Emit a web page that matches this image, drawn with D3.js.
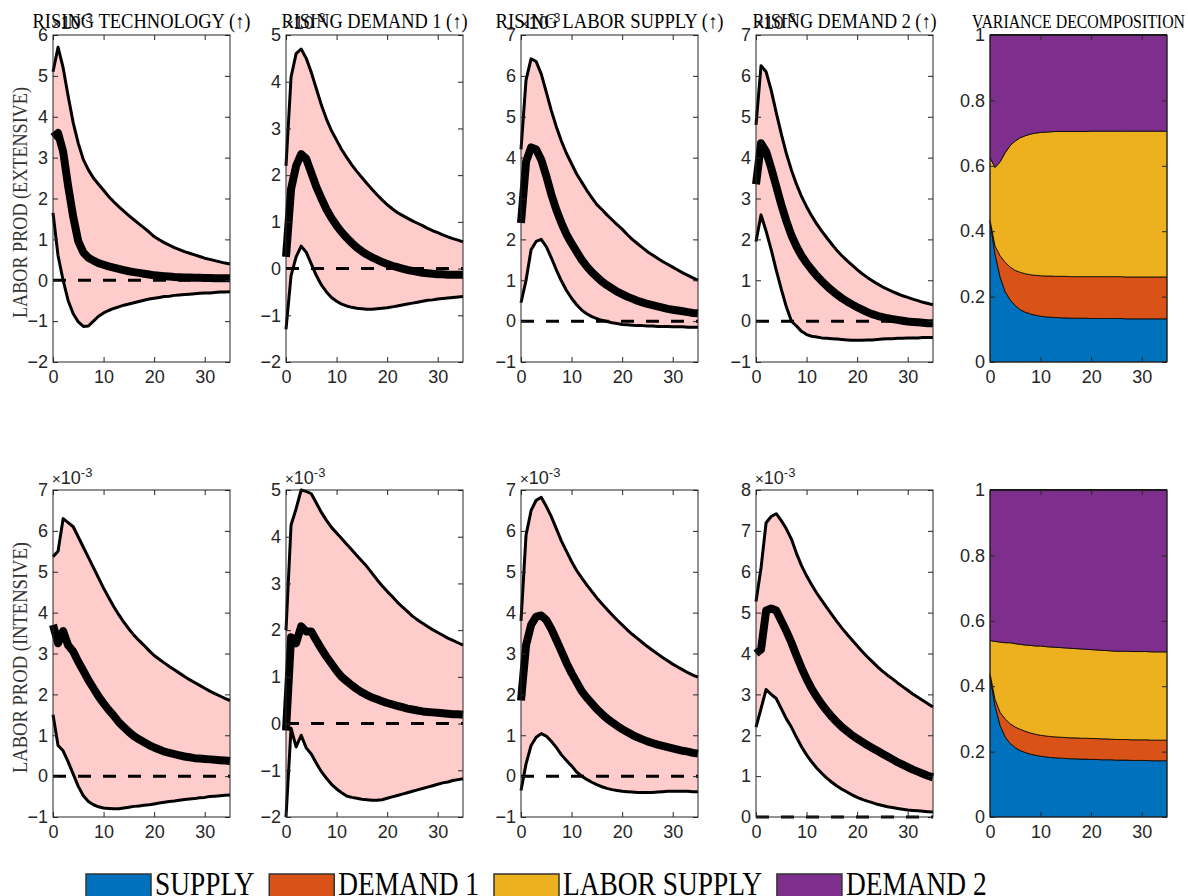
<!DOCTYPE html>
<html>
<head>
<meta charset="utf-8">
<script src="https://cdn.jsdelivr.net/npm/d3@7/dist/d3.min.js"></script>
<style>
  body { margin: 0; background: #ffffff; }
  svg { display: block; }
</style>
</head>
<body>
<svg id="fig" width="1188" height="896"></svg>
<script>
// ---------------- data ----------------
const periods = d3.range(0, 36);

const shockTitles = ["RISING TECHNOLOGY (\u2191)", "RISING DEMAND 1 (\u2191)", "RISING LABOR SUPPLY (\u2191)", "RISING DEMAND 2 (\u2191)", "VARIANCE DECOMPOSITION"];
const rowLabels = ["LABOR PROD (EXTENSIVE)", "LABOR PROD (INTENSIVE)"];
const legendLabels = ["SUPPLY", "DEMAND 1", "LABOR SUPPLY", "DEMAND 2"];
const shockColors = ["#0072BD", "#D95319", "#EDB120", "#7E2F8E"];
const irfTicksX = [0, 10, 20, 30];
const varTicksY = [0, 0.2, 0.4, 0.6, 0.8, 1];

// Impulse responses (x 1e-3): 68% band upper, median, lower
const extTechUpper  = [5.1,5.7,5.2,4.5,3.85,3.35,2.95,2.7,2.5,2.35,2.2,2.05,1.92,1.8,1.69,1.58,1.48,1.38,1.28,1.18,1.07,0.99,0.92,0.86,0.8,0.75,0.7,0.66,0.62,0.58,0.54,0.51,0.48,0.45,0.42,0.4];
const extTechMedian = [3.5,3.6,3.15,2.3,1.55,0.95,0.68,0.55,0.48,0.42,0.38,0.34,0.31,0.28,0.25,0.22,0.2,0.18,0.16,0.14,0.12,0.11,0.1,0.09,0.08,0.075,0.07,0.065,0.06,0.06,0.055,0.055,0.05,0.05,0.05,0.05];
const extTechLower  = [1.65,0.6,0.0,-0.5,-0.82,-1.02,-1.13,-1.12,-1.0,-0.88,-0.8,-0.74,-0.69,-0.65,-0.61,-0.58,-0.55,-0.52,-0.49,-0.46,-0.44,-0.42,-0.4,-0.39,-0.37,-0.36,-0.35,-0.34,-0.33,-0.32,-0.31,-0.31,-0.3,-0.29,-0.29,-0.28];

const extDem1Upper  = [2.2,4.1,4.6,4.7,4.5,4.2,3.85,3.5,3.2,2.95,2.75,2.55,2.38,2.22,2.08,1.95,1.82,1.7,1.58,1.47,1.37,1.28,1.2,1.14,1.08,1.02,0.97,0.92,0.86,0.81,0.77,0.72,0.68,0.64,0.61,0.57];
const extDem1Median = [0.25,1.7,2.2,2.45,2.35,2.05,1.75,1.5,1.27,1.08,0.92,0.78,0.66,0.55,0.45,0.37,0.3,0.24,0.19,0.14,0.1,0.06,0.03,0.0,-0.03,-0.05,-0.07,-0.09,-0.1,-0.11,-0.12,-0.12,-0.13,-0.13,-0.13,-0.13];
const extDem1Lower  = [-1.3,-0.15,0.25,0.48,0.35,0.1,-0.15,-0.35,-0.5,-0.62,-0.7,-0.76,-0.8,-0.83,-0.85,-0.86,-0.87,-0.87,-0.86,-0.85,-0.84,-0.82,-0.8,-0.78,-0.76,-0.74,-0.72,-0.7,-0.68,-0.67,-0.65,-0.64,-0.63,-0.62,-0.61,-0.6];

const extLabUpper   = [4.2,5.9,6.42,6.35,6.05,5.6,5.15,4.75,4.4,4.1,3.85,3.6,3.4,3.2,3.02,2.85,2.73,2.6,2.48,2.36,2.25,2.12,2.0,1.9,1.8,1.7,1.62,1.54,1.46,1.39,1.32,1.25,1.18,1.12,1.06,1.0];
const extLabMedian  = [2.4,3.9,4.25,4.2,3.95,3.55,3.1,2.72,2.4,2.12,1.9,1.7,1.5,1.34,1.2,1.08,0.97,0.88,0.8,0.72,0.66,0.6,0.55,0.5,0.46,0.42,0.39,0.36,0.33,0.3,0.28,0.26,0.24,0.22,0.2,0.19];
const extLabLower   = [0.45,1.0,1.75,1.95,2.0,1.82,1.55,1.25,0.98,0.75,0.56,0.4,0.27,0.18,0.11,0.06,0.02,-0.01,-0.04,-0.06,-0.08,-0.09,-0.1,-0.11,-0.11,-0.12,-0.12,-0.13,-0.13,-0.13,-0.14,-0.14,-0.14,-0.15,-0.15,-0.15];

const extDem2Upper  = [4.8,6.25,6.1,5.65,5.1,4.58,4.1,3.7,3.35,3.05,2.8,2.58,2.38,2.2,2.04,1.88,1.73,1.6,1.48,1.37,1.26,1.16,1.07,0.99,0.91,0.84,0.78,0.72,0.67,0.62,0.58,0.54,0.5,0.46,0.43,0.4];
const extDem2Median = [3.35,4.35,4.15,3.75,3.3,2.85,2.45,2.1,1.83,1.6,1.42,1.26,1.11,0.98,0.86,0.75,0.65,0.56,0.48,0.41,0.34,0.28,0.22,0.17,0.13,0.1,0.07,0.05,0.03,0.01,-0.01,-0.02,-0.03,-0.04,-0.05,-0.05];
const extDem2Lower  = [1.95,2.6,2.2,1.75,1.25,0.78,0.35,0.0,-0.12,-0.25,-0.33,-0.37,-0.39,-0.41,-0.42,-0.43,-0.44,-0.45,-0.46,-0.47,-0.47,-0.47,-0.46,-0.46,-0.45,-0.44,-0.43,-0.43,-0.42,-0.42,-0.41,-0.41,-0.41,-0.4,-0.4,-0.4];

const intTechUpper  = [5.37,5.5,6.3,6.2,6.1,5.85,5.6,5.35,5.1,4.85,4.6,4.37,4.15,3.95,3.77,3.6,3.45,3.32,3.2,3.07,2.95,2.86,2.77,2.68,2.6,2.52,2.44,2.36,2.29,2.22,2.15,2.08,2.02,1.96,1.9,1.85];
const intTechMedian = [3.7,3.25,3.55,3.2,3.05,2.8,2.58,2.35,2.15,1.95,1.78,1.62,1.48,1.32,1.2,1.08,0.98,0.9,0.83,0.76,0.7,0.65,0.6,0.57,0.54,0.51,0.48,0.46,0.44,0.43,0.42,0.41,0.4,0.39,0.38,0.37];
const intTechLower  = [1.5,0.75,0.62,0.35,0.05,-0.25,-0.48,-0.62,-0.7,-0.75,-0.78,-0.79,-0.8,-0.8,-0.78,-0.76,-0.74,-0.73,-0.71,-0.7,-0.68,-0.66,-0.64,-0.62,-0.61,-0.59,-0.57,-0.56,-0.55,-0.53,-0.52,-0.5,-0.49,-0.48,-0.47,-0.46];

const intDem1Upper  = [2.0,4.25,4.6,5.0,4.97,4.92,4.72,4.52,4.35,4.2,4.08,3.96,3.84,3.72,3.6,3.48,3.36,3.22,3.08,2.95,2.83,2.72,2.6,2.5,2.4,2.3,2.22,2.15,2.08,2.01,1.95,1.89,1.83,1.78,1.73,1.68];
const intDem1Median = [-0.15,1.85,1.72,2.08,1.97,1.97,1.78,1.6,1.43,1.28,1.13,1.0,0.91,0.82,0.74,0.67,0.61,0.56,0.52,0.48,0.44,0.41,0.38,0.35,0.32,0.3,0.28,0.26,0.25,0.24,0.23,0.22,0.21,0.2,0.2,0.19];
const intDem1Lower  = [-2.0,-0.1,-0.5,-0.25,-0.52,-0.65,-0.85,-1.03,-1.17,-1.3,-1.4,-1.48,-1.55,-1.58,-1.6,-1.62,-1.63,-1.64,-1.64,-1.63,-1.6,-1.57,-1.54,-1.51,-1.48,-1.45,-1.42,-1.39,-1.36,-1.33,-1.3,-1.27,-1.25,-1.22,-1.2,-1.18];

const intLabUpper   = [3.8,5.9,6.5,6.75,6.82,6.6,6.35,6.05,5.75,5.5,5.25,5.03,4.85,4.68,4.52,4.36,4.22,4.08,3.95,3.82,3.7,3.58,3.47,3.37,3.27,3.17,3.08,2.99,2.9,2.82,2.74,2.67,2.6,2.53,2.47,2.42];
const intLabMedian  = [1.85,3.2,3.7,3.9,3.93,3.82,3.6,3.33,3.05,2.77,2.52,2.3,2.08,1.92,1.78,1.64,1.52,1.41,1.32,1.23,1.15,1.08,1.01,0.95,0.9,0.85,0.81,0.77,0.74,0.71,0.68,0.65,0.62,0.6,0.57,0.55];
const intLabLower   = [-0.35,0.3,0.75,0.95,1.04,0.98,0.85,0.7,0.52,0.38,0.25,0.1,0.0,-0.08,-0.15,-0.21,-0.26,-0.3,-0.33,-0.35,-0.37,-0.38,-0.39,-0.4,-0.4,-0.4,-0.4,-0.39,-0.38,-0.37,-0.37,-0.37,-0.37,-0.37,-0.38,-0.38];

const intDem2Upper  = [5.27,6.1,7.2,7.35,7.42,7.25,7.05,6.8,6.45,6.15,5.9,5.68,5.48,5.3,5.12,4.95,4.78,4.62,4.47,4.33,4.19,4.05,3.92,3.8,3.68,3.57,3.47,3.38,3.28,3.19,3.1,3.01,2.93,2.85,2.77,2.69];
const intDem2Median = [4.0,4.1,5.05,5.1,5.05,4.8,4.55,4.27,3.95,3.65,3.38,3.14,2.94,2.76,2.6,2.45,2.32,2.2,2.1,2.0,1.92,1.84,1.76,1.69,1.62,1.55,1.48,1.41,1.34,1.28,1.22,1.16,1.11,1.06,1.01,0.97];
const intDem2Lower  = [2.2,2.65,3.12,3.0,2.9,2.65,2.4,2.2,1.95,1.72,1.52,1.35,1.2,1.07,0.95,0.85,0.76,0.68,0.61,0.54,0.48,0.43,0.39,0.35,0.31,0.28,0.25,0.23,0.21,0.19,0.17,0.16,0.15,0.14,0.13,0.12];

// Forecast-error variance shares by shock
const extVarSupply  = [0.43,0.33,0.26,0.215,0.19,0.172,0.16,0.152,0.147,0.143,0.14,0.138,0.137,0.136,0.135,0.135,0.134,0.134,0.134,0.134,0.133,0.133,0.133,0.133,0.133,0.133,0.133,0.132,0.132,0.132,0.132,0.132,0.132,0.132,0.132,0.132];
const extVarDemand1 = [0.005,0.025,0.065,0.09,0.1,0.108,0.114,0.118,0.12,0.122,0.124,0.125,0.126,0.126,0.127,0.127,0.127,0.127,0.127,0.127,0.128,0.128,0.128,0.128,0.128,0.128,0.128,0.128,0.128,0.128,0.128,0.128,0.128,0.128,0.128,0.128];
const extVarLabor   = [0.19,0.24,0.287,0.335,0.372,0.396,0.412,0.422,0.43,0.435,0.438,0.44,0.441,0.443,0.443,0.443,0.444,0.444,0.444,0.444,0.445,0.445,0.445,0.445,0.445,0.445,0.445,0.446,0.446,0.446,0.446,0.446,0.446,0.446,0.446,0.446];
const extVarDemand2 = [0.375,0.405,0.388,0.36,0.338,0.324,0.314,0.308,0.303,0.3,0.298,0.297,0.296,0.295,0.295,0.295,0.295,0.295,0.295,0.295,0.294,0.294,0.294,0.294,0.294,0.294,0.294,0.294,0.294,0.294,0.294,0.294,0.294,0.294,0.294,0.294];

const intVarSupply  = [0.43,0.34,0.28,0.245,0.225,0.212,0.203,0.197,0.192,0.189,0.186,0.184,0.182,0.181,0.18,0.179,0.178,0.178,0.177,0.177,0.176,0.176,0.175,0.175,0.175,0.174,0.174,0.174,0.173,0.173,0.173,0.173,0.172,0.172,0.172,0.172];
const intVarDemand1 = [0.01,0.02,0.04,0.055,0.06,0.063,0.065,0.065,0.065,0.064,0.064,0.064,0.064,0.064,0.064,0.064,0.064,0.064,0.064,0.064,0.064,0.064,0.064,0.064,0.063,0.063,0.063,0.063,0.063,0.063,0.063,0.063,0.063,0.063,0.063,0.063];
const intVarLabor   = [0.1,0.177,0.215,0.233,0.248,0.255,0.26,0.264,0.268,0.27,0.273,0.273,0.274,0.274,0.274,0.274,0.274,0.273,0.273,0.272,0.272,0.271,0.271,0.27,0.27,0.27,0.27,0.27,0.27,0.27,0.27,0.27,0.27,0.27,0.27,0.27];
const intVarDemand2 = [0.46,0.463,0.465,0.467,0.467,0.47,0.472,0.474,0.475,0.477,0.477,0.479,0.48,0.481,0.482,0.483,0.484,0.485,0.486,0.487,0.488,0.489,0.49,0.491,0.492,0.493,0.493,0.493,0.494,0.494,0.494,0.494,0.495,0.495,0.495,0.495];

const irfDomains = [
  [[-2, 6], [-2, 5], [-1, 7], [-1, 7]],
  [[-1, 7], [-2, 5], [-1, 7], [0, 8]]
];
const irfSeries = [
  [[extTechUpper, extTechMedian, extTechLower], [extDem1Upper, extDem1Median, extDem1Lower],
   [extLabUpper, extLabMedian, extLabLower], [extDem2Upper, extDem2Median, extDem2Lower]],
  [[intTechUpper, intTechMedian, intTechLower], [intDem1Upper, intDem1Median, intDem1Lower],
   [intLabUpper, intLabMedian, intLabLower], [intDem2Upper, intDem2Median, intDem2Lower]]
];
const varSeries = [
  [extVarSupply, extVarDemand1, extVarLabor, extVarDemand2],
  [intVarSupply, intVarDemand1, intVarLabor, intVarDemand2]
];

// ---------------- layout ----------------
const svg = d3.select("#fig");
const colLeft = [53, 286, 521, 756, 990];
const rowTop = [35, 490];
const pw = 177, ph = 327;
const titleWidths = [218, 186, 228, 184, 213];
const rowLabelWidth = 231;
const axisColor = "#262626";
const sans = "'Liberation Sans', Arial, Helvetica, sans-serif";
const serif = "'Liberation Serif', 'Times New Roman', serif";

function squeezeText(sel, factor) {
  sel.each(function () {
    const w = this.getComputedTextLength();
    d3.select(this).attr("textLength", w * factor).attr("lengthAdjust", "spacingAndGlyphs");
  });
}

function drawFrame(g, x, y, yTicks, yFmt) {
  const ax = g.append("g").attr("class", "axes");
  const styleAxis = a => {
    a.select(".domain").remove();
    a.selectAll("line").attr("stroke", axisColor).attr("stroke-width", 1);
    a.selectAll("text").attr("fill", axisColor).style("font-family", sans).style("font-size", "18px");
  };
  ax.append("g").attr("transform", `translate(0,${ph})`)
    .call(d3.axisBottom(x).tickValues(irfTicksX).tickSize(-5).tickPadding(8).tickFormat(d3.format("d")))
    .call(styleAxis);
  ax.append("g")
    .call(d3.axisTop(x).tickValues(irfTicksX).tickSize(-5).tickFormat(""))
    .call(styleAxis);
  ax.append("g")
    .call(d3.axisLeft(y).tickValues(yTicks).tickSize(-5).tickPadding(5).tickFormat(yFmt))
    .call(styleAxis);
  ax.append("g").attr("transform", `translate(${pw},0)`)
    .call(d3.axisRight(y).tickValues(yTicks).tickSize(-5).tickFormat(""))
    .call(styleAxis);
  ax.append("rect").attr("x", 0).attr("y", 0).attr("width", pw).attr("height", ph)
    .attr("fill", "none").attr("stroke", axisColor).attr("stroke-width", 1);
}

function drawExponent(g) {
  const t = g.append("text").attr("x", -1).attr("y", -6)
    .attr("fill", axisColor).style("font-family", sans).style("font-size", "18px");
  t.append("tspan").text("\u00d7").style("font-size", "15px");
  t.append("tspan").text("10");
  t.append("tspan").text("-3").attr("dy", -7).style("font-size", "13px");
}

// ---------------- impulse-response panels ----------------
irfSeries.forEach((row, r) => {
  row.forEach((series, c) => {
    const [upper, median, lower] = series;
    const g = svg.append("g").attr("transform", `translate(${colLeft[c]},${rowTop[r]})`);
    const x = d3.scaleLinear().domain([0, 35]).range([0, pw]);
    const y = d3.scaleLinear().domain(irfDomains[r][c]).range([ph, 0]);

    const band = d3.area().x(i => x(periods[i])).y0(i => y(lower[i])).y1(i => y(upper[i]));
    g.append("path").datum(periods.map((p, i) => i)).attr("d", band)
      .attr("fill", "#FFCCCC").attr("stroke", "none");

    g.append("line").attr("x1", x(0)).attr("x2", x(35)).attr("y1", y(0)).attr("y2", y(0))
      .attr("stroke", "#000").attr("stroke-width", 3).attr("stroke-dasharray", "13,12");

    const line = vals => d3.line().x((d, i) => x(periods[i])).y(d => y(d))(vals);
    [upper, lower].forEach(vals => {
      g.append("path").attr("d", line(vals)).attr("fill", "none")
        .attr("stroke", "#000").attr("stroke-width", 3).attr("stroke-linejoin", "round");
    });
    g.append("path").attr("d", line(median)).attr("fill", "none")
      .attr("stroke", "#000").attr("stroke-width", 8).attr("stroke-linejoin", "round");

    const dom = irfDomains[r][c];
    drawFrame(g, x, y, d3.range(dom[0], dom[1] + 1), d3.format("d"));
    drawExponent(g);
  });
});

// ---------------- variance decomposition panels ----------------
varSeries.forEach((shares, r) => {
  const g = svg.append("g").attr("transform", `translate(${colLeft[4]},${rowTop[r]})`);
  const x = d3.scaleLinear().domain([0, 35]).range([0, pw]);
  const y = d3.scaleLinear().domain([0, 1]).range([ph, 0]);
  const rows = periods.map((p, i) => ({ t: p, s0: shares[0][i], s1: shares[1][i], s2: shares[2][i], s3: shares[3][i] }));
  const stack = d3.stack().keys(["s0", "s1", "s2", "s3"])(rows);
  const area = d3.area().x(d => x(d.data.t)).y0(d => y(d[0])).y1(d => y(Math.min(1, d[1])));
  g.selectAll("path.layer").data(stack).join("path").attr("class", "layer")
    .attr("d", area).attr("fill", (d, i) => shockColors[i])
    .attr("stroke", "#000").attr("stroke-width", 0.8);
  drawFrame(g, x, y, varTicksY, d => d === 0 || d === 1 ? d3.format("d")(d) : d3.format(".1f")(d));
  g.append("line").attr("x1", 0).attr("x2", pw).attr("y1", 0).attr("y2", 0)
    .attr("stroke", "#1a1a1a").attr("stroke-width", 2);
});

// ---------------- titles and row labels ----------------
shockTitles.forEach((title, c) => {
  svg.append("text")
    .attr("x", colLeft[c] + pw / 2).attr("y", 28).attr("text-anchor", "middle")
    .attr("fill", "#000").style("font-family", serif)
    .style("font-size", c === 4 ? "18px" : "20px")
    .attr("textLength", titleWidths[c]).attr("lengthAdjust", "spacingAndGlyphs")
    .text(title);
});

rowLabels.forEach((label, r) => {
  svg.append("text")
    .attr("transform", `translate(27,${rowTop[r] + ph / 2 + 4}) rotate(-90)`)
    .attr("text-anchor", "middle").attr("fill", "#333")
    .style("font-family", serif).style("font-size", "20px")
    .attr("textLength", rowLabelWidth).attr("lengthAdjust", "spacingAndGlyphs")
    .text(label);
});

// ---------------- legend ----------------
const legend = svg.append("g");
let lx = 86;
legendLabels.forEach((label, i) => {
  legend.append("rect").attr("x", lx).attr("y", 874).attr("width", 65).attr("height", 40)
    .attr("fill", shockColors[i]).attr("stroke", "#333").attr("stroke-width", 1.5);
  const t = legend.append("text").attr("x", lx + 69).attr("y", 895)
    .attr("fill", "#000").style("font-family", serif).style("font-size", "33px").text(label);
  squeezeText(t, 0.83);
  lx += 69 + (+t.attr("textLength")) + 15;
});
</script>
</body>
</html>
